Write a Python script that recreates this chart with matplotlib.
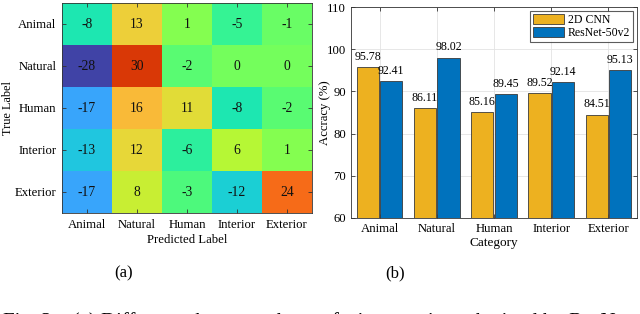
import numpy as np
import matplotlib
matplotlib.use("Agg")
import matplotlib.pyplot as plt

plt.rcParams['font.family'] = ['Liberation Serif', 'DejaVu Serif']
plt.rcParams['mathtext.fontset'] = 'stix'

labels = ["Animal", "Natural", "Human", "Interior", "Exterior"]
diff = np.array([
    [-8, 13, 1, -5, -1],
    [-28, 30, -2, 0, 0],
    [-17, 16, 11, -8, -2],
    [-13, 12, -6, 6, 1],
    [-17, 8, -3, -12, 24],
])
cnn_acc = [95.78, 86.11, 85.16, 89.52, 84.51]
resnet_acc = [92.41, 98.02, 89.45, 92.14, 95.13]
series_names = ["2D CNN", "ResNet-50v2"]

W, H = 640, 314
fig = plt.figure(figsize=(W / 100, H / 100), dpi=100)

def box(l, t, r, b):
    return [l / W, 1 - b / H, (r - l) / W, (b - t) / H]

TICK_FS = 9.2

# ---- (a) heatmap ----
ax1 = fig.add_axes(box(62, 3, 312, 213))
ax1.imshow(diff, cmap='turbo', vmin=-33, vmax=40.5, aspect='auto')
for i in range(diff.shape[0]):
    for j in range(diff.shape[1]):
        ax1.text(j, i, str(diff[i, j]), ha='center', va='center', fontsize=9.8, color='#111111')
ax1.set_xticks(range(5))
ax1.set_yticks(range(5))
ax1.set_xticklabels(labels, fontsize=TICK_FS)
ax1.set_yticklabels(labels, fontsize=TICK_FS)
ax1.tick_params(direction='in', length=3, width=0.6, top=True, right=True, color='#333333', pad=4)
ax1.set_xlabel("Predicted Label", fontsize=9.2)
ax1.xaxis.set_label_coords(0.5, (213 - 234) / 210)
ax1.set_ylabel("True Label", fontsize=8.8)
ax1.yaxis.set_label_coords((14 - 62) / 250, 0.5)
for s in ax1.spines.values():
    s.set_linewidth(0.6)
    s.set_color('#333333')

# ---- (b) bar chart ----
ax2 = fig.add_axes(box(351, 7, 637, 218))
x = np.arange(1, 6)
w = 0.39
off = 0.205
b1 = ax2.bar(x - off, cnn_acc, w, color='#EDB120', edgecolor='#3a3a3a', linewidth=0.6, label=series_names[0], zorder=3)
b2 = ax2.bar(x + off, resnet_acc, w, color='#0072BD', edgecolor='#3a3a3a', linewidth=0.6, label=series_names[1], zorder=3)
for bars, vals in ((b1, cnn_acc), (b2, resnet_acc)):
    for rect, v in zip(bars, vals):
        ax2.text(rect.get_x() + rect.get_width() / 2, v + 1.0, f"{v:.2f}",
                 ha='center', va='bottom', fontsize=8.6)
ax2.set_xlim(0.5, 5.5)
ax2.set_ylim(60, 110)
ax2.set_yticks(range(60, 111, 10))
ax2.set_xticks(x)
ax2.set_xticklabels(labels, fontsize=TICK_FS)
ax2.tick_params(axis='y', labelsize=TICK_FS)
ax2.tick_params(direction='in', length=3, width=0.6, top=True, right=True, color='#333333')
ax2.grid(True, color='#e3e3e3', linewidth=0.6, zorder=0)
ax2.set_axisbelow(True)
ax2.set_xlabel("Category", fontsize=9.5)
ax2.xaxis.set_label_coords(0.5, (218 - 237) / 211)
ax2.set_ylabel("Accracy (%)", fontsize=9.2)
ax2.yaxis.set_label_coords((331 - 351) / 286, 0.5)
for s in ax2.spines.values():
    s.set_linewidth(0.6)
    s.set_color('#333333')
leg = ax2.legend(loc='upper right', fontsize=8.5, frameon=True, fancybox=False,
                 handlelength=2.6, handleheight=0.9, borderpad=0.25, labelspacing=0.1,
                 handletextpad=0.3, borderaxespad=0.35)
leg.get_frame().set_edgecolor('#333333')
leg.get_frame().set_linewidth(0.8)

# ---- sub-captions ----
fig.text(124 / W, 1 - 273 / H, "(a)", ha='center', va='center', fontsize=12)
fig.text(395 / W, 1 - 273 / H, "(b)", ha='center', va='center', fontsize=12)
fig.text(3 / W, 1 - 327 / H,
         "Fig. 2.   (a) Difference between the confusion matrices obtained by ResNet",
         ha='left', va='baseline', fontsize=15)

fig.savefig("out.png", dpi=100)
